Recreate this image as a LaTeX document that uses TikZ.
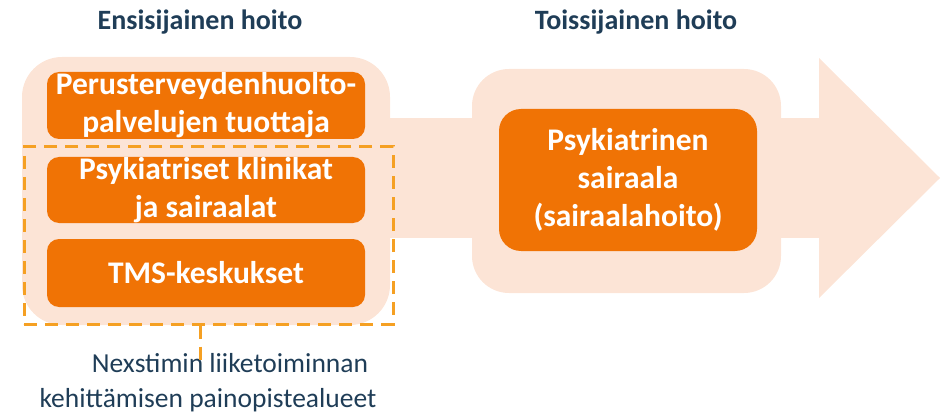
\documentclass[tikz,border=0pt]{standalone}
\usepackage{fontspec}
\setmainfont{Carlito}
\definecolor{peach}{HTML}{FCE4D6}
\definecolor{orng}{HTML}{F07305}
\definecolor{dashc}{HTML}{F5A023}
\definecolor{navy}{HTML}{1F3D57}
\tikzset{
  light/.style={fill=peach, draw=none},
  obox/.style={fill=orng, draw=none, rounded corners=12pt, text=white, font=\fontsize{31.5}{38}\selectfont\bfseries, align=center, inner sep=0pt},
  head/.style={text=navy, font=\fontsize{28}{32}\selectfont\bfseries},
  dashline/.style={draw=dashc, line width=3pt, dash pattern=on 13pt off 8pt},
  note/.style={text=navy, font=\fontsize{27.5}{35}\selectfont, align=center}
}
\begin{document}
\begin{tikzpicture}[x=1pt,y=-1pt]
\useasboundingbox (0,0) rectangle (947,414);
% light arrow shape
\fill[peach] (380,118) rectangle (819,238);
\fill[peach] (819,58) -- (940,178) -- (819,298) -- cycle;
\fill[peach, rounded corners=40pt] (22,57) rectangle (390,325);
\fill[peach, rounded corners=37pt] (472,69) rectangle (781,293);
% headings
\node[head] (h1) at (200,22) {Ensisijainen hoito};
\node[head] (h2) at (636,22) {Toissijainen hoito};
% orange boxes
\node[obox, minimum width=318pt, minimum height=67pt] (b1) at (206,105.5) {Perusterveydenhuolto-\\palvelujen tuottaja};
\node[obox, minimum width=318pt, minimum height=66pt] (b2) at (206,190) {Psykiatriset klinikat\\ja sairaalat};
\node[obox, minimum width=318pt, minimum height=68pt] (b3) at (206,273) {TMS-keskukset};
\node[obox, rounded corners=22pt, minimum width=258pt, minimum height=142pt] (b4) at (628,180) {Psykiatrinen\\sairaala\\(sairaalahoito)};
% dashed focus area
\node[dashline, rectangle, minimum width=369pt, minimum height=177pt, inner sep=0pt] (focus) at (208.5,235.5) {};
\node[note] (lbl) at (208,383) {\hspace*{44pt}Nexstimin liiketoiminnan\\kehittämisen painopistealueet};
\coordinate (tailend) at (200,360);
\draw[dashline] (focus.south -| tailend) -- (tailend);
\end{tikzpicture}
\end{document}
